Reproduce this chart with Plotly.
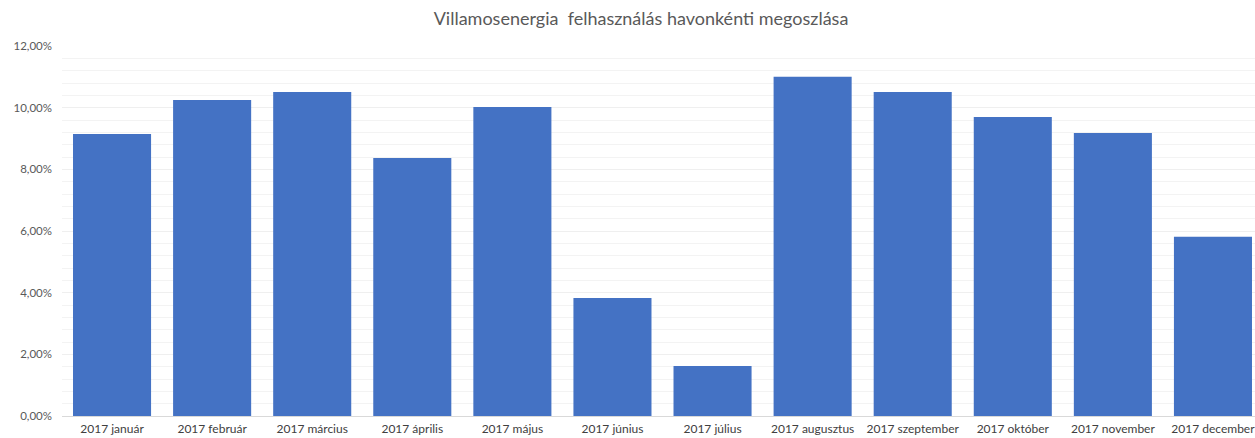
import plotly.graph_objects as go

categories = ["2017 január", "2017 február", "2017 március", "2017 április", "2017 május",
              "2017 június", "2017 július", "2017 augusztus", "2017 szeptember",
              "2017 október", "2017 november", "2017 december"]
shares = [0.0915, 0.1025, 0.1051, 0.0837, 0.1002, 0.0383, 0.0162, 0.1100, 0.1051,
          0.0970, 0.0918, 0.0581]

fig = go.Figure(go.Bar(x=categories, y=shares, marker=dict(color="#4472C4", line=dict(width=0))))

W = 1263
fig.update_layout(
    width=W, height=438,
    margin=dict(l=62, r=0, t=46, b=22, autoexpand=False),
    paper_bgcolor="white", plot_bgcolor="white",
    separators=", ",
    bargap=0.22,
    font=dict(family="Lato, Open Sans, sans-serif", color="#595959", size=11),
    title=dict(text="Villamosenergia  felhasználás havonkénti megoszlása",
               x=641 / W, xanchor="center", y=0.958, yanchor="middle",
               font=dict(size=18, color="#595959")),
    showlegend=False,
)
fig.update_yaxes(range=[0, 0.12], dtick=0.02, tickformat=".2%", showgrid=True,
                 gridcolor="#efefef", gridwidth=1, zeroline=False,
                 minor=dict(dtick=0.004, showgrid=True, gridcolor="#f3f3f3", gridwidth=1),
                 ticks="", ticklabelstandoff=9, tickfont=dict(size=11.5, color="#595959"))
fig.update_xaxes(showline=True, linecolor="#d9d9d9", linewidth=1, ticks="",
                 ticklabelstandoff=2,
                 tickfont=dict(size=12, color="#404040"), tickangle=0)

fig.write_html("out.html", config={"displayModeBar": False},
               post_script="document.body.style.margin='0';document.body.style.overflow='hidden';")
